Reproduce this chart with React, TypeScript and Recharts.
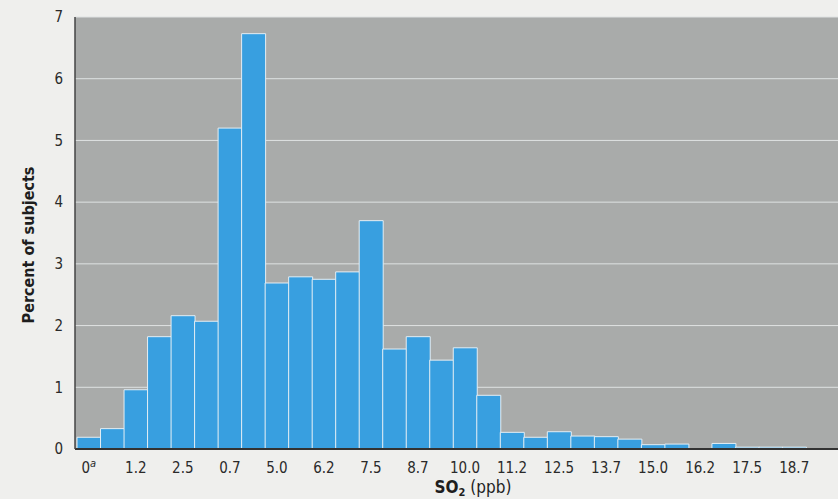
import { Bar, BarChart, CartesianGrid, Customized, XAxis, YAxis } from "recharts";

const FONT = '"Liberation Sans Narrow", "DejaVu Sans Condensed", "Arial Narrow", sans-serif';
const BAR_BLUE = "#389fe0";
const PLOT_GRAY = "#a9abaa";

// one entry per bin; only every other bin carries a printed label
const binLabels = [
  "0", "", "1.2", "", "2.5", "", "0.7", "", "5.0", "", "6.2", "",
  "7.5", "", "8.7", "", "10.0", "", "11.2", "", "12.5", "", "13.7", "",
  "15.0", "", "16.2", "", "17.5", "", "18.7",
];

const percentSubjects = [
  0.19, 0.33, 0.96, 1.82, 2.16, 2.07, 5.2, 6.73, 2.69, 2.79, 2.75, 2.87,
  3.7, 1.62, 1.82, 1.44, 1.64, 0.87, 0.27, 0.19, 0.28, 0.21, 0.2, 0.16,
  0.07, 0.08, 0, 0.09, 0.03, 0.03, 0.03,
];

const yTicks = [0, 1, 2, 3, 4, 5, 6, 7];

const data = binLabels.map((bin, i) => ({ bin, pct: percentSubjects[i] }));

function XTick(props: any) {
  const { x, y, payload } = props;
  if (!payload.value) return <g />;
  return (
    <text x={x} y={y + 16} textAnchor="middle" fontSize={15} fontFamily={FONT} fill="#2a2a2a">
      {payload.value}
      {payload.index === 0 && (
        <tspan dy={-6} fontSize={11} fontStyle="italic">
          a
        </tspan>
      )}
    </text>
  );
}

function AxisTitles() {
  return (
    <g fontFamily={FONT} fill="#1e1e1e">
      <text
        x={28}
        y={245}
        transform="rotate(-90, 28, 245)"
        textAnchor="middle"
        dominantBaseline="central"
        fontSize={16}
        fontWeight="bold"
      >
        Percent of subjects
      </text>
      <text x={473} y={493} textAnchor="middle" fontSize={17}>
        <tspan fontWeight="bold">SO</tspan>
        <tspan fontWeight="bold" fontSize={11} dy={3}>2</tspan>
        <tspan dy={-3}> (ppb)</tspan>
      </text>
    </g>
  );
}

export default function App() {
  return (
    <div
      style={{
        position: "absolute",
        left: 0,
        top: 0,
        width: 838,
        height: 499,
        background: "#efefed",
      }}
    >
      <BarChart
        width={838}
        height={499}
        data={data}
        barCategoryGap={0}
        margin={{ top: 17, right: 0, left: 30, bottom: 20 }}
      >
        <CartesianGrid vertical={false} stroke="#dfe2e2" fill={PLOT_GRAY} fillOpacity={1} />
        <XAxis
          dataKey="bin"
          interval={0}
          height={30}
          padding={{ left: 2, right: 32 }}
          tickLine={false}
          tick={<XTick />}
          axisLine={{ stroke: "#333", strokeWidth: 2 }}
        />
        <YAxis
          width={45}
          domain={[0, 7]}
          ticks={yTicks}
          tickLine={false}
          tickSize={0}
          tickMargin={12}
          axisLine={{ stroke: "#444", strokeWidth: 1.5 }}
          tick={{ fontSize: 15, fontFamily: FONT, fill: "#2a2a2a" }}
        />
        <Bar
          dataKey="pct"
          fill={BAR_BLUE}
          stroke="#e4eef4"
          strokeWidth={1}
          isAnimationActive={false}
        />
        <Customized component={AxisTitles} />
      </BarChart>
    </div>
  );
}
